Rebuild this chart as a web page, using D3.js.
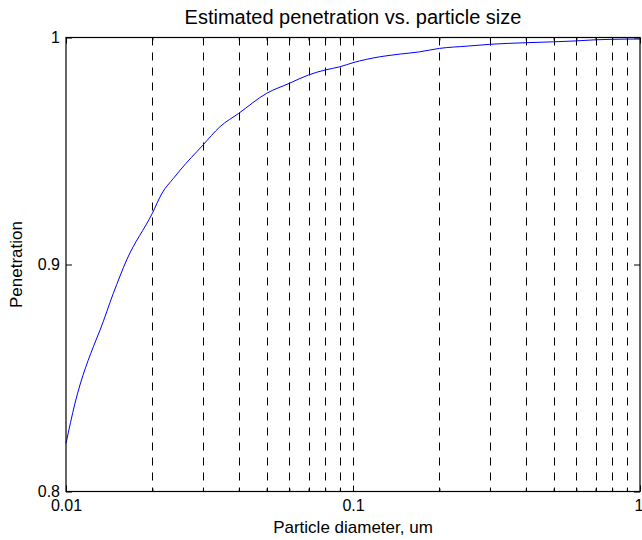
<!DOCTYPE html>
<html>
<head>
<meta charset="utf-8">
<script src="https://cdn.jsdelivr.net/npm/d3@7"></script>
<style>
  html, body { margin: 0; padding: 0; background: #fff; }
  svg { display: block; }
  text { font-family: "Liberation Sans", Arial, Helvetica, sans-serif; fill: #000; }
</style>
</head>
<body>
<svg id="chart" width="642" height="540"></svg>
<script>
// ---- data ----
const diameters = [0.01, 0.01075, 0.01272, 0.01314, 0.01462, 0.01627, 0.02, 0.0216, 0.0237, 0.025,
                   0.03, 0.0344, 0.04, 0.05, 0.06, 0.07, 0.08, 0.09, 0.1, 0.124, 0.146, 0.171,
                   0.2, 0.25, 0.3, 0.4, 0.5, 0.6, 0.7, 0.8, 0.9, 1];
const penetration = [0.8212, 0.8389, 0.8667, 0.8711, 0.8873, 0.902, 0.9226, 0.9314, 0.938, 0.9416,
                     0.9526, 0.9607, 0.9666, 0.9754, 0.9798, 0.9835, 0.9857, 0.9871, 0.9889, 0.9915, 0.9927, 0.9937,
                     0.9952, 0.9962, 0.997, 0.9977, 0.9981, 0.9985, 0.999, 0.9992, 0.9993, 0.9993];
const xTickValues = [0.01, 0.1, 1];
const xTickLabels = ["0.01", "0.1", "1"];
const xMinorValues = [0.02, 0.03, 0.04, 0.05, 0.06, 0.07, 0.08, 0.09, 0.2, 0.3, 0.4, 0.5, 0.6, 0.7, 0.8, 0.9];
const xGridValues = [0.02, 0.03, 0.04, 0.05, 0.06, 0.07, 0.08, 0.09, 0.1, 0.2, 0.3, 0.4, 0.5, 0.6, 0.7, 0.8, 0.9];
const yTickValues = [0.8, 0.9, 1];
const yTickLabels = ["0.8", "0.9", "1"];
const titleText = "Estimated penetration vs. particle size";
const xLabelText = "Particle diameter, um";
const yLabelText = "Penetration";

// ---- layout ----
const L = 66, R = 640, T = 37.5, B = 491.5;
const svg = d3.select("#chart");
const x = d3.scaleLog().domain([0.01, 1]).range([L, R]);
const y = d3.scaleLinear().domain([0.8, 1]).range([B, T]);

// grid (dashed vertical lines)
svg.append("g").selectAll("line").data(xGridValues).enter().append("line")
  .attr("x1", d => Math.round(x(d)) + 0.5).attr("x2", d => Math.round(x(d)) + 0.5)
  .attr("y1", T).attr("y2", B)
  .attr("stroke", "#000").attr("stroke-width", 1)
  .attr("stroke-dasharray", "8,7");

// curve
const line = d3.line().x((d, i) => x(diameters[i])).y(d => y(d)).curve(d3.curveMonotoneX);
svg.append("path").datum(penetration)
  .attr("d", line).attr("fill", "none")
  .attr("stroke", "#0000ff").attr("stroke-width", 1);

// axes (ticks pointing inward)
const fmtX = d => xTickLabels[xTickValues.indexOf(d)];
const fmtY = d => yTickLabels[yTickValues.indexOf(d)];

const axB = svg.append("g").attr("transform", `translate(0,${B})`)
  .call(d3.axisBottom(x).tickValues(xTickValues).tickFormat(fmtX).tickSizeInner(-6).tickSizeOuter(0).tickPadding(8));
const axT = svg.append("g").attr("transform", `translate(0,${T})`)
  .call(d3.axisTop(x).tickValues(xTickValues).tickFormat("").tickSizeInner(-6).tickSizeOuter(0));
const axL = svg.append("g").attr("transform", `translate(${L},0)`)
  .call(d3.axisLeft(y).tickValues(yTickValues).tickFormat(fmtY).tickSizeInner(-6).tickSizeOuter(0).tickPadding(6));
const axR = svg.append("g").attr("transform", `translate(${R},0)`)
  .call(d3.axisRight(y).tickValues(yTickValues).tickFormat("").tickSizeInner(-6).tickSizeOuter(0));
// minor x ticks
svg.append("g").attr("transform", `translate(0,${B})`)
  .call(d3.axisBottom(x).tickValues(xMinorValues).tickFormat("").tickSizeInner(-3).tickSizeOuter(0))
  .select(".domain").remove();
svg.append("g").attr("transform", `translate(0,${T})`)
  .call(d3.axisTop(x).tickValues(xMinorValues).tickFormat("").tickSizeInner(-3).tickSizeOuter(0))
  .select(".domain").remove();

[axB, axT, axL, axR].forEach(a => {
  a.select(".domain").remove();
  a.selectAll("line").attr("stroke", "#000");
  a.selectAll("text").attr("font-size", 16).attr("fill", "#000")
    .style("font-family", '"Liberation Sans", Arial, sans-serif');
});
axB.selectAll("text").attr("dy", "0.71em");
axB.selectAll(".tick").filter(d => d === 1).select("text").attr("text-anchor", "end").attr("dx", 3);

// frame
svg.append("rect").attr("x", L).attr("y", T).attr("width", R - L).attr("height", B - T)
  .attr("fill", "none").attr("stroke", "#000").attr("stroke-width", 1.2);

// texts
svg.append("text").attr("x", (L + R) / 2).attr("y", 24).attr("text-anchor", "middle")
  .attr("font-size", 20).text(titleText);
svg.append("text").attr("x", (L + R) / 2).attr("y", 533).attr("text-anchor", "middle")
  .attr("font-size", 17).text(xLabelText);
svg.append("text").attr("transform", `translate(22,${(T + B) / 2}) rotate(-90)`)
  .attr("text-anchor", "middle").attr("font-size", 17).text(yLabelText);
</script>
</body>
</html>
